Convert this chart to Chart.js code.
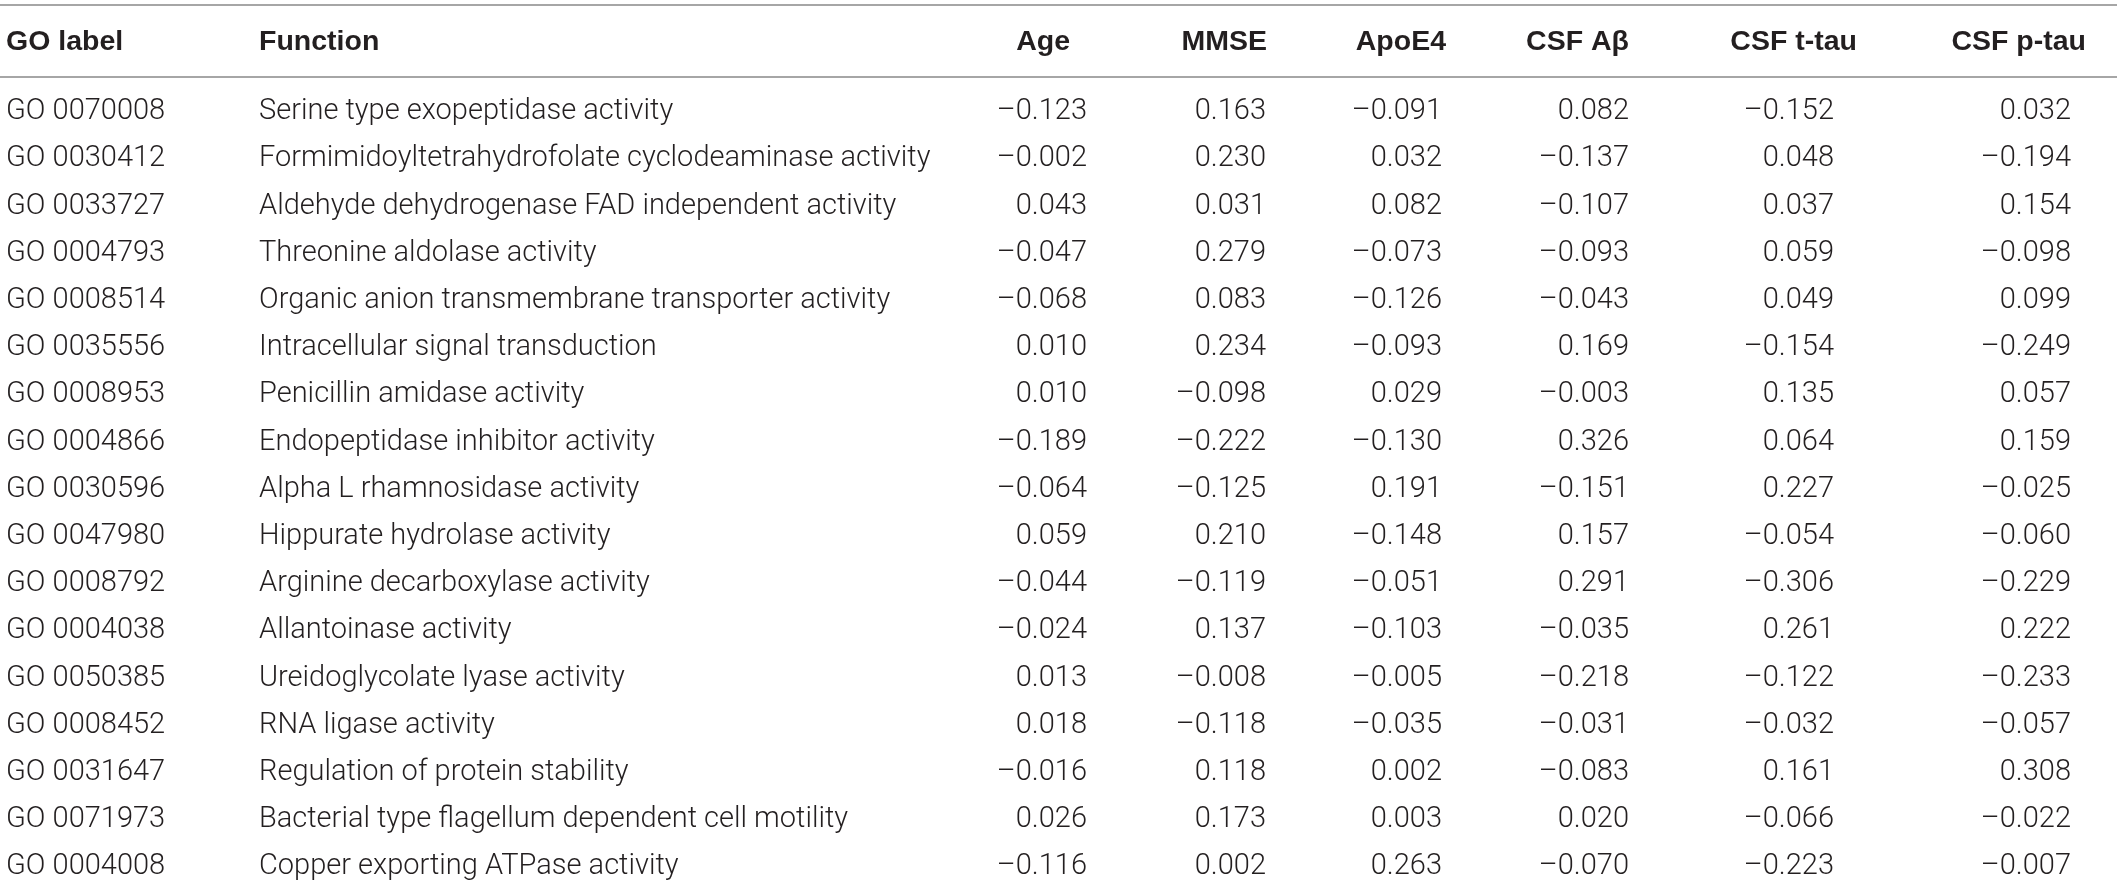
<!DOCTYPE html>
<html>
<head>
<meta charset="utf-8">
<script src="https://cdn.jsdelivr.net/npm/chart.js@4"></script>
<style>
  html, body { margin: 0; padding: 0; background: #fff; }
  #wrap { width: 2117px; height: 891px; position: relative; }
</style>
</head>
<body>
<div id="wrap"><canvas id="tbl"></canvas></div>
<script>
// DATA
let headers = ["GO label", "Function", "Age", "MMSE", "ApoE4", "CSF A\u03b2", "CSF t-tau", "CSF p-tau"];

let goLabels = [
  "GO 0070008", "GO 0030412", "GO 0033727", "GO 0004793", "GO 0008514", "GO 0035556",
  "GO 0008953", "GO 0004866", "GO 0030596", "GO 0047980", "GO 0008792", "GO 0004038",
  "GO 0050385", "GO 0008452", "GO 0031647", "GO 0071973", "GO 0004008"
];

let functions = [
  "Serine type exopeptidase activity",
  "Formimidoyltetrahydrofolate cyclodeaminase activity",
  "Aldehyde dehydrogenase FAD independent activity",
  "Threonine aldolase activity",
  "Organic anion transmembrane transporter activity",
  "Intracellular signal transduction",
  "Penicillin amidase activity",
  "Endopeptidase inhibitor activity",
  "Alpha L rhamnosidase activity",
  "Hippurate hydrolase activity",
  "Arginine decarboxylase activity",
  "Allantoinase activity",
  "Ureidoglycolate lyase activity",
  "RNA ligase activity",
  "Regulation of protein stability",
  "Bacterial type flagellum dependent cell motility",
  "Copper exporting ATPase activity"
];

let age   = [-0.123, -0.002, 0.043, -0.047, -0.068, 0.010, 0.010, -0.189, -0.064, 0.059, -0.044, -0.024, 0.013, 0.018, -0.016, 0.026, -0.116];
let mmse  = [0.163, 0.230, 0.031, 0.279, 0.083, 0.234, -0.098, -0.222, -0.125, 0.210, -0.119, 0.137, -0.008, -0.118, 0.118, 0.173, 0.002];
let apoe4 = [-0.091, 0.032, 0.082, -0.073, -0.126, -0.093, 0.029, -0.130, 0.191, -0.148, -0.051, -0.103, -0.005, -0.035, 0.002, 0.003, 0.263];
let csfAb = [0.082, -0.137, -0.107, -0.093, -0.043, 0.169, -0.003, 0.326, -0.151, 0.157, 0.291, -0.035, -0.218, -0.031, -0.083, 0.020, -0.070];
let csfTtau = [-0.152, 0.048, 0.037, 0.059, 0.049, -0.154, 0.135, 0.064, 0.227, -0.054, -0.306, 0.261, -0.122, -0.032, 0.161, -0.066, -0.223];
let csfPtau = [0.032, -0.194, 0.154, -0.098, 0.099, -0.249, 0.057, 0.159, -0.025, -0.060, -0.229, 0.222, -0.233, -0.057, 0.308, -0.022, -0.007];

// LAYOUT (x in layout px, y in row units)
let cellX = [6, 259, 1087, 1266, 1442, 1629, 1834, 2071];
let headX = [6, 259, 1070, 1267, 1446, 1629, 1857, 2086];
let colAlign = ["left", "left", "right", "right", "right", "right", "right", "right"];
let headerRow = -1.48;
let topRuleRow = -2.26;
let headRuleRow = -0.74;

function fmt(v) {
  let s = Math.abs(v).toFixed(3);
  return v < 0 ? "\u2013" + s : s;
}

let columns = [goLabels, functions, age, mmse, apoe4, csfAb, csfTtau, csfPtau];

let datasets = columns.map((col, c) => ({
  label: headers[c],
  data: col.map((v, r) => ({ x: cellX[c], y: r, text: typeof v === "number" ? fmt(v) : v })),
  pointRadius: 0,
  showLine: false
}));

let bodyFont = "300 29px Roboto, 'Liberation Sans', sans-serif";
let headFont = "bold 28.5px 'Liberation Sans', Arial, sans-serif";

let tablePlugin = {
  id: "tablePlugin",
  afterDatasetsDraw(chart) {
    let ctx = chart.ctx;
    let xs = chart.scales.x, ys = chart.scales.y;
    ctx.save();

    // rules
    ctx.strokeStyle = "#a6a6a6";
    ctx.lineWidth = 2;
    [topRuleRow, headRuleRow].forEach(r => {
      let y = Math.round(ys.getPixelForValue(r));
      ctx.beginPath();
      ctx.moveTo(xs.left, y);
      ctx.lineTo(xs.right, y);
      ctx.stroke();
    });

    // header
    ctx.fillStyle = "#231f20";
    ctx.textBaseline = "middle";
    ctx.font = headFont;
    headers.forEach((h, c) => {
      ctx.textAlign = colAlign[c];
      ctx.fillText(h, xs.getPixelForValue(headX[c]), ys.getPixelForValue(headerRow));
    });

    // cells
    ctx.font = bodyFont;
    chart.data.datasets.forEach((ds, c) => {
      let meta = chart.getDatasetMeta(c);
      ctx.textAlign = colAlign[c];
      meta.data.forEach((pt, r) => {
        ctx.fillText(ds.data[r].text, pt.x, pt.y);
      });
    });
    ctx.restore();
  }
};

new Chart(document.getElementById("tbl"), {
  type: "scatter",
  data: { datasets: datasets },
  options: {
    responsive: true,
    maintainAspectRatio: false,
    animation: false,
    events: [],
    layout: { padding: 0 },
    plugins: { legend: { display: false }, tooltip: { enabled: false } },
    scales: {
      x: { type: "linear", min: 0, max: 2117, display: false },
      y: { type: "linear", min: -2.373, max: 16.504, reverse: true, display: false }
    }
  },
  plugins: [tablePlugin]
});
</script>
</body>
</html>
